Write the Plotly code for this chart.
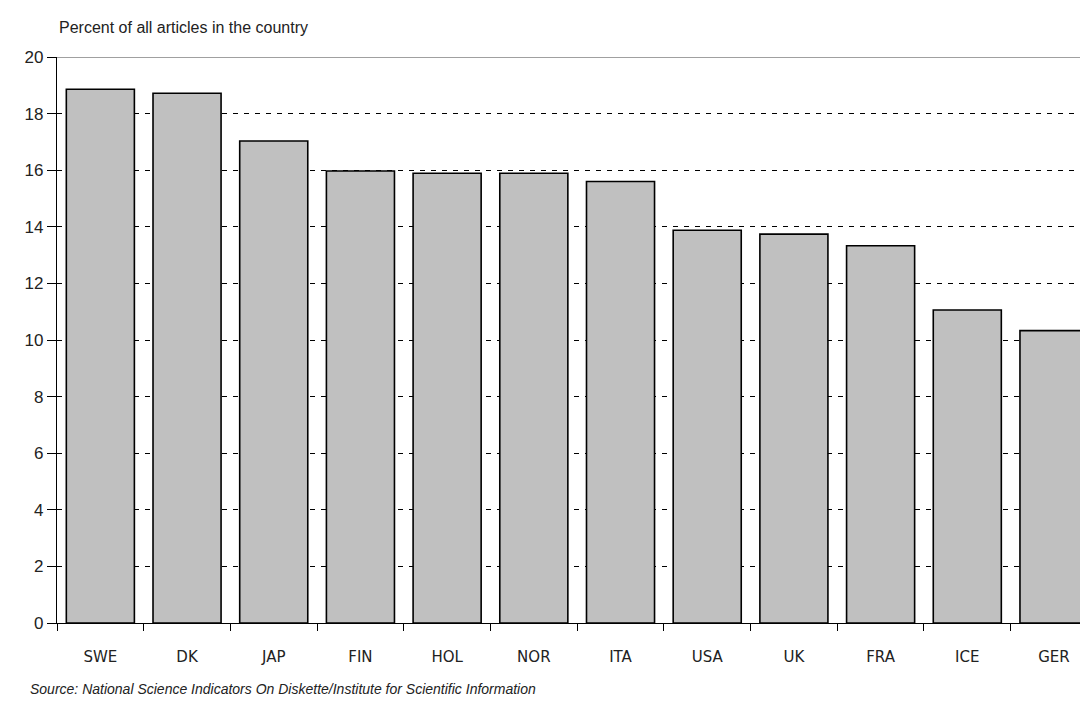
import plotly.graph_objects as go

countries = ["SWE", "DK", "JAP", "FIN", "HOL", "NOR", "ITA", "USA", "UK", "FRA", "ICE", "GER"]
percent = [18.86, 18.72, 17.03, 15.97, 15.89, 15.89, 15.6, 13.88, 13.74, 13.33, 11.06, 10.33]
y_ticks = [0, 2, 4, 6, 8, 10, 12, 14, 16, 18, 20]
y_title = "Percent of all articles in the country"
source = "Source: National Science Indicators On Diskette/Institute for Scientific Information"

FONT = "Liberation Sans, Arial, sans-serif"
XFONT = "DejaVu Sans, Verdana, sans-serif"

fig = go.Figure()
fig.add_trace(go.Bar(
    x=countries, y=percent,
    marker=dict(color="#C0C0C0", line=dict(color="#000000", width=1.6)),
    hoverinfo="x+y",
))

fig.update_layout(
    width=1072, height=699,
    margin=dict(l=49, r=0, t=49, b=84),
    paper_bgcolor="white", plot_bgcolor="white",
    bargap=0.215,
    showlegend=False,
    font=dict(family=FONT, color="#000000"),
    xaxis=dict(
        type="category",
        range=[-0.5, 11.30],
        showline=True, linecolor="#000000", linewidth=1.2,
        ticks="outside", ticklen=7, tickcolor="#000000", tickwidth=1.2,
        tickson="boundaries",
        showgrid=False,
        tickfont=dict(size=15, family=XFONT, color="#222222"),
        ticklabelstandoff=20,
    ),
    yaxis=dict(
        range=[0, 20],
        tickvals=y_ticks,
        showline=True, linecolor="#000000", linewidth=1.2,
        ticks="outside", ticklen=9, tickcolor="#000000", tickwidth=1.2,
        showgrid=True, gridcolor="#000000", gridwidth=1.2, griddash="5px,6px",
        zeroline=False,
        tickfont=dict(size=17, family=FONT, color="#222222"),
    ),
    shapes=[dict(type="line", xref="paper", yref="y", x0=0, x1=1, y0=20, y1=20,
                 line=dict(color="#A0A0A0", width=2), layer="above")],
    annotations=[
        dict(text=y_title, xref="paper", yref="paper", x=0, y=1, xshift=0, yshift=19,
             xanchor="left", yanchor="bottom", showarrow=False,
             font=dict(size=16, family=FONT, color="#222222")),
        dict(text="<i>" + source + "</i>", xref="paper", yref="paper", x=0, y=0,
             xshift=-29, yshift=-66, xanchor="left", yanchor="middle", showarrow=False,
             font=dict(size=14, family=FONT, color="#222222")),
    ],
)

fig.write_html("out.html")
